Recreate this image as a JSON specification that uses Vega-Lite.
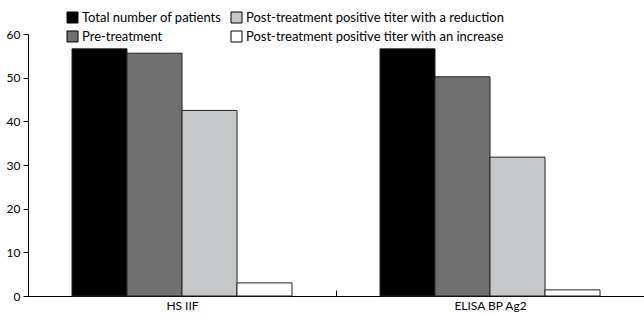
{
  "$schema": "https://vega.github.io/schema/vega-lite/v6.json",
  "width": 616,
  "height": 262,
  "autosize": {"type": "none"},
  "padding": {"left": 28, "top": 34, "right": 0, "bottom": 18},
  "background": "white",
  "config": {
    "view": {"stroke": null},
    "font": "Lato",
    "axis": {"labelFont": "Lato", "labelColor": "#000", "domainColor": "#000", "tickColor": "#000", "labelFontSize": 12, "grid": false, "title": null}
  },
  "data": {
    "values": [
      {"method": "HS IIF", "series": "Total number of patients", "value": 56.6},
      {"method": "HS IIF", "series": "Pre-treatment", "value": 55.6},
      {"method": "HS IIF", "series": "Post-treatment positive titer with a reduction", "value": 42.5},
      {"method": "HS IIF", "series": "Post-treatment positive titer with an increase", "value": 3.0},
      {"method": "ELISA BP Ag2", "series": "Total number of patients", "value": 56.6},
      {"method": "ELISA BP Ag2", "series": "Pre-treatment", "value": 50.2},
      {"method": "ELISA BP Ag2", "series": "Post-treatment positive titer with a reduction", "value": 31.8},
      {"method": "ELISA BP Ag2", "series": "Post-treatment positive titer with an increase", "value": 1.4}
    ]
  },
  "mark": {"type": "bar", "stroke": "#222", "strokeWidth": 1},
  "encoding": {
    "x": {
      "field": "method", "type": "nominal",
      "sort": ["HS IIF", "ELISA BP Ag2"],
      "scale": {"paddingInner": 0, "paddingOuter": 0},
      "axis": {"labelAngle": 0, "tickBand": "extent", "tickSize": -6, "labelPadding": 10, "domainWidth": 1}
    },
    "xOffset": {
      "field": "series", "type": "nominal",
      "sort": ["Total number of patients", "Pre-treatment", "Post-treatment positive titer with a reduction", "Post-treatment positive titer with an increase"],
      "scale": {"paddingInner": 0, "paddingOuter": 0.8}
    },
    "y": {
      "field": "value", "type": "quantitative",
      "scale": {"domain": [0, 60], "nice": false},
      "axis": {"values": [0, 10, 20, 30, 40, 50, 60], "tickSize": 5, "labelPadding": 3}
    },
    "color": {
      "field": "series", "type": "nominal",
      "scale": {
        "domain": ["Total number of patients", "Post-treatment positive titer with a reduction", "Pre-treatment", "Post-treatment positive titer with an increase"],
        "range": ["#000000", "#c6c7c8", "#707070", "#ffffff"]
      },
      "legend": {
        "title": null, "orient": "none", "legendX": 38, "legendY": -23,
        "columns": 2, "direction": "horizontal", "columnPadding": 7, "rowPadding": 4,
        "symbolType": "square", "symbolSize": 121, "symbolStrokeColor": "#000", "symbolStrokeWidth": 1,
        "labelFont": "Lato", "labelFontSize": 13, "labelColor": "#000", "labelOffset": 3, "labelLimit": 400
      }
    }
  }
}
